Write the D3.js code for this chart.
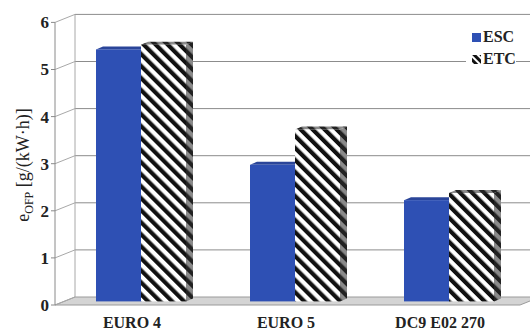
<!DOCTYPE html>
<html>
<head>
<meta charset="utf-8">
<script src="https://cdn.jsdelivr.net/npm/d3@7"></script>
<style>
  html, body { margin: 0; padding: 0; background: #ffffff; }
  svg { display: block; }
</style>
</head>
<body>
<svg id="chart" width="530" height="333"></svg>
<script>
// Emission data per engine test
const categories = ["EURO 4", "EURO 5", "DC9 E02 270"];
const seriesNames = ["ESC", "ETC"];
const escValues = [5.35, 2.9, 2.15];
const etcValues = [5.45, 3.65, 2.3];
const yTicks = [0, 1, 2, 3, 4, 5, 6];

const FONT = "'Liberation Serif', 'Times New Roman', Times, serif";

const svg = d3.select("#chart");
const W = 530, H = 333;

// 3D projection: back wall is the front plane shifted by (DX, DY)
const DX = 20, DY = -8;
const frontLeft = 55, frontRight = 517;

const y = d3.scaleLinear().domain([0, 6]).range([305, 22.4]);
const x = d3.scaleBand().domain(categories).range([frontLeft, frontRight]);

// bars sit part-way into the depth
const barOX = 9, barOY = -3.6;
const barDX = 7, barDY = -3;
const inner = d3.scaleBand().domain(seriesNames).range([-45, 45]);

const defs = svg.append("defs");
// diagonal hatch for ETC front faces
const hatch = defs.append("pattern")
  .attr("id", "hatch").attr("patternUnits", "userSpaceOnUse")
  .attr("width", 8.5).attr("height", 8.5)
  .attr("patternTransform", "rotate(-45)");
hatch.append("rect").attr("width", 8.5).attr("height", 8.5).attr("fill", "#ffffff");
hatch.append("rect").attr("width", 4.2).attr("height", 8.5).attr("fill", "#111111");
// darker hatch for the side faces
const hatchSide = defs.append("pattern")
  .attr("id", "hatchSide").attr("patternUnits", "userSpaceOnUse")
  .attr("width", 8.5).attr("height", 8.5)
  .attr("patternTransform", "rotate(-45)");
hatchSide.append("rect").attr("width", 8.5).attr("height", 8.5).attr("fill", "#8a8a8a");
hatchSide.append("rect").attr("width", 4.2).attr("height", 8.5).attr("fill", "#222222");
// small legend hatch
const hatchLeg = defs.append("pattern")
  .attr("id", "hatchLeg").attr("patternUnits", "userSpaceOnUse")
  .attr("width", 5).attr("height", 5)
  .attr("patternTransform", "rotate(-45)");
hatchLeg.append("rect").attr("width", 5).attr("height", 5).attr("fill", "#ffffff");
hatchLeg.append("rect").attr("width", 3).attr("height", 5).attr("fill", "#111111");

const gridColor = "#8c8c8c";

// floor
const floorPts = [
  [frontLeft, y(0)], [frontRight + 3, y(0)],
  [frontRight + 3 + DX, y(0) + DY], [frontLeft + DX, y(0) + DY]
];
svg.append("path")
  .attr("d", d3.line()(floorPts) + "Z")
  .attr("fill", "#d4d4d4").attr("stroke", "#9a9a9a").attr("stroke-width", 1);

// back wall gridlines and left-wall connectors
const grid = svg.append("g");
yTicks.forEach(t => {
  const yb = y(t) + DY;
  if (t > 0) {
    grid.append("line")
      .attr("x1", frontLeft + DX).attr("x2", W)
      .attr("y1", yb).attr("y2", yb)
      .attr("stroke", gridColor).attr("stroke-width", 1);
  }
  grid.append("line")
    .attr("x1", frontLeft).attr("y1", y(t))
    .attr("x2", frontLeft + DX).attr("y2", yb)
    .attr("stroke", "#a8a8a8").attr("stroke-width", 1);
});
// back wall left edge
grid.append("line")
  .attr("x1", frontLeft + DX).attr("x2", frontLeft + DX)
  .attr("y1", y(6) + DY).attr("y2", y(0) + DY)
  .attr("stroke", "#a8a8a8").attr("stroke-width", 1);

// front value axis
const axis = svg.append("g");
axis.append("line")
  .attr("x1", frontLeft).attr("x2", frontLeft)
  .attr("y1", y(6)).attr("y2", y(0))
  .attr("stroke", "#8a8a8a").attr("stroke-width", 1);
yTicks.forEach(t => {
  axis.append("line")
    .attr("x1", frontLeft - 4).attr("x2", frontLeft)
    .attr("y1", y(t)).attr("y2", y(t))
    .attr("stroke", "#8a8a8a");
  axis.append("text")
    .attr("x", frontLeft - 6).attr("y", y(t)).attr("dy", "0.35em")
    .attr("text-anchor", "end")
    .attr("font-family", FONT)
    .attr("font-size", 17).attr("font-weight", "bold").attr("fill", "#222")
    .text(t);
});

// bars
function drawBar(g, x0, w, v, front, top, side) {
  const yb = y(0) + barOY, yt = y(v) + barOY;
  const x1 = x0 + w;
  // side face
  g.append("path")
    .attr("d", d3.line()([[x1, yt], [x1 + barDX, yt + barDY], [x1 + barDX, yb + barDY], [x1, yb]]) + "Z")
    .attr("fill", side);
  // top face
  g.append("path")
    .attr("d", d3.line()([[x0, yt], [x0 + barDX, yt + barDY], [x1 + barDX, yt + barDY], [x1, yt]]) + "Z")
    .attr("fill", top);
  // front face
  g.append("rect")
    .attr("x", x0).attr("y", yt).attr("width", w).attr("height", yb - yt)
    .attr("fill", front);
}

const bars = svg.append("g");
categories.forEach((c, i) => {
  const cx = x(c) + x.bandwidth() / 2 + barOX;
  const g = bars.append("g");
  drawBar(g, cx + inner("ESC"), inner.bandwidth(), escValues[i], "#2e50b4", "#2a4599", "#1f3a88");
  drawBar(g, cx + inner("ETC"), inner.bandwidth(), etcValues[i], "url(#hatch)", "url(#hatchSide)", "url(#hatchSide)");
});

// category labels
svg.append("g").selectAll("text").data(categories).join("text")
  .attr("x", d => x(d) + x.bandwidth() / 2)
  .attr("y", 328)
  .attr("text-anchor", "middle")
  .attr("font-family", FONT)
  .attr("font-size", 16).attr("font-weight", "bold").attr("fill", "#222")
  .text(d => d);

// value axis title
const title = svg.append("text")
  .attr("transform", "translate(29,165) rotate(-90)")
  .attr("text-anchor", "middle")
  .attr("font-family", FONT)
  .attr("font-size", 18).attr("fill", "#222");
title.append("tspan").text("e");
title.append("tspan").attr("font-size", 12).attr("dy", 4).text("OFP");
title.append("tspan").attr("dy", -4).text(" [g/(kW·h)]");

// legend
const leg = svg.append("g");
leg.append("rect").attr("x", 466).attr("y", 27).attr("width", 50).attr("height", 40).attr("fill", "#ffffff");
leg.append("rect").attr("x", 472).attr("y", 33).attr("width", 9).attr("height", 9).attr("fill", "#2e50b4");
leg.append("rect").attr("x", 472).attr("y", 55).attr("width", 9).attr("height", 9).attr("fill", "url(#hatchLeg)");
leg.append("text").attr("x", 483).attr("y", 42).attr("font-family", FONT).attr("font-size", 16).attr("font-weight", "bold").attr("fill", "#222").text("ESC");
leg.append("text").attr("x", 483).attr("y", 64).attr("font-family", FONT).attr("font-size", 16).attr("font-weight", "bold").attr("fill", "#222").text("ETC");
</script>
</body>
</html>
